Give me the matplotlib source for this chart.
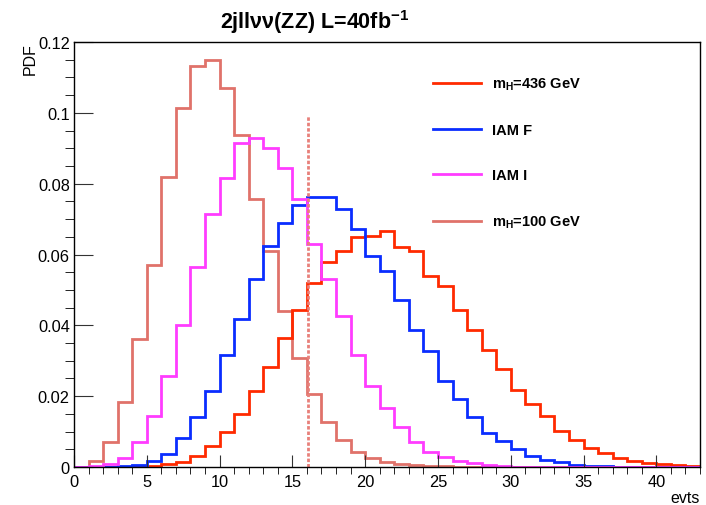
import numpy as np
import matplotlib
matplotlib.use("Agg")
import matplotlib.pyplot as plt
from matplotlib.ticker import MultipleLocator, FormatStrFormatter
from matplotlib.lines import Line2D

plt.rcParams.update({"font.family": ["Liberation Sans", "DejaVu Sans"],
                     "mathtext.fontset": "custom",
                     "mathtext.rm": "Liberation Sans",
                     "mathtext.bf": "Liberation Sans:bold",
                     "mathtext.it": "Liberation Serif:italic",
                     "mathtext.default": "regular"})

# bin edges 0..43, one bin per unit of evts
edges = np.arange(0, 44)

# mH = 436 GeV
h_436 = [0, 0, 0, 0, 0.0002, 0.0003, 0.0008, 0.0013, 0.0030, 0.0060,
         0.0098, 0.0150, 0.0216, 0.0282, 0.0364, 0.0442, 0.0519, 0.0579, 0.0610, 0.0650,
         0.0653, 0.0666, 0.0622, 0.0609, 0.0539, 0.0510, 0.0442, 0.0386, 0.0331, 0.0277,
         0.0217, 0.0177, 0.0143, 0.0101, 0.0077, 0.0054, 0.0040, 0.0025, 0.0018, 0.0011,
         0.0008, 0.0005, 0.0002]
# IAM F
h_iamf = [0, 0, 0, 0.0002, 0.0005, 0.0018, 0.0037, 0.0082, 0.0141, 0.0216,
          0.0315, 0.0419, 0.0530, 0.0623, 0.0688, 0.0740, 0.0761, 0.0763, 0.0728, 0.0672,
          0.0595, 0.0554, 0.0471, 0.0386, 0.0327, 0.0243, 0.0192, 0.0142, 0.0096, 0.0074,
          0.0052, 0.0031, 0.0019, 0.0013, 0.0007, 0.0004, 0.0002, 0.0001, 0, 0,
          0, 0, 0]
# IAM I
h_iami = [0, 0.0003, 0.0009, 0.0025, 0.0072, 0.0145, 0.0257, 0.0400, 0.0566, 0.0714,
          0.0815, 0.0916, 0.0928, 0.0902, 0.0843, 0.0758, 0.0631, 0.0532, 0.0427, 0.0315,
          0.0230, 0.0166, 0.0112, 0.0070, 0.0043, 0.0027, 0.0016, 0.0011, 0.0006, 0.0003,
          0.0001, 0, 0, 0, 0, 0, 0, 0, 0, 0,
          0, 0, 0]
# mH = 100 GeV
h_100 = [0, 0.0018, 0.0070, 0.0183, 0.0362, 0.0571, 0.0820, 0.1013, 0.1133, 0.1148,
         0.1070, 0.0937, 0.0758, 0.0609, 0.0441, 0.0308, 0.0207, 0.0127, 0.0075, 0.0042,
         0.0025, 0.0013, 0.0009, 0.0006, 0.0003, 0.0002, 0, 0, 0, 0,
         0, 0, 0, 0, 0, 0, 0, 0, 0, 0,
         0, 0, 0]

cut_x = 16.1
cut_top = 0.0995

labels = ["m$_{H}$=436 GeV", "IAM F", "IAM I", "m$_{H}$=100 GeV"]
colors = ["#ff2a00", "#0a2dff", "#ff3cff", "#e0726a"]

fig = plt.figure(figsize=(7.06, 5.06), dpi=100)
ax = fig.add_axes([74 / 706, 38 / 506, 626 / 706, 425 / 506])

lw = 2.0
ax.stairs(h_100, edges, color=colors[3], lw=lw, baseline=None)
ax.stairs(h_436, edges, color=colors[0], lw=lw, baseline=None)
ax.stairs(h_iamf, edges, color=colors[1], lw=lw, baseline=None)
ax.stairs(h_iami, edges, color=colors[2], lw=lw, baseline=None)
ax.plot([cut_x, cut_x], [0, cut_top], color="#e8807a", lw=2.0, ls=(0, (1.25, 0.7)))

ax.set_xlim(0, 43)
ax.set_ylim(0, 0.12)
ax.xaxis.set_major_locator(MultipleLocator(5))
ax.xaxis.set_minor_locator(MultipleLocator(1))
ax.yaxis.set_major_locator(MultipleLocator(0.02))
ax.yaxis.set_minor_locator(MultipleLocator(0.005))
ax.yaxis.set_major_formatter(FormatStrFormatter("%g"))
ax.tick_params(direction="in", top=False, right=False, labelsize=11.8,
               color="#333333", width=0.8)
ax.tick_params(axis="x", which="major", length=8.6, pad=5)
ax.tick_params(axis="x", which="minor", length=5)
ax.tick_params(axis="y", which="major", length=13.7, pad=3)
ax.tick_params(axis="y", which="minor", length=6.5)
for s in ax.spines.values():
    s.set_linewidth(1.0)

ax.set_xlabel("evts", loc="right", fontsize=11.5, labelpad=1)
ax.set_ylabel("PDF", loc="top", fontsize=11.5, labelpad=0)

handles = [Line2D([], [], color=c, lw=lw) for c in colors]
ax.legend(handles, labels, loc="upper left", bbox_to_anchor=(0.5624, 0.938),
          frameon=False, prop={"weight": "bold", "size": 10.5},
          handlelength=3.3, handletextpad=0.7, labelspacing=2.14, borderpad=0)

fig.text(315 / 706, 1 - 29.5 / 506, r"2jll$\nu\nu$(ZZ) L=40fb$^{\mathbf{-1}}$",
         ha="center", va="baseline", fontsize=15.5, fontweight="bold")

fig.savefig("out.png", dpi=100)
